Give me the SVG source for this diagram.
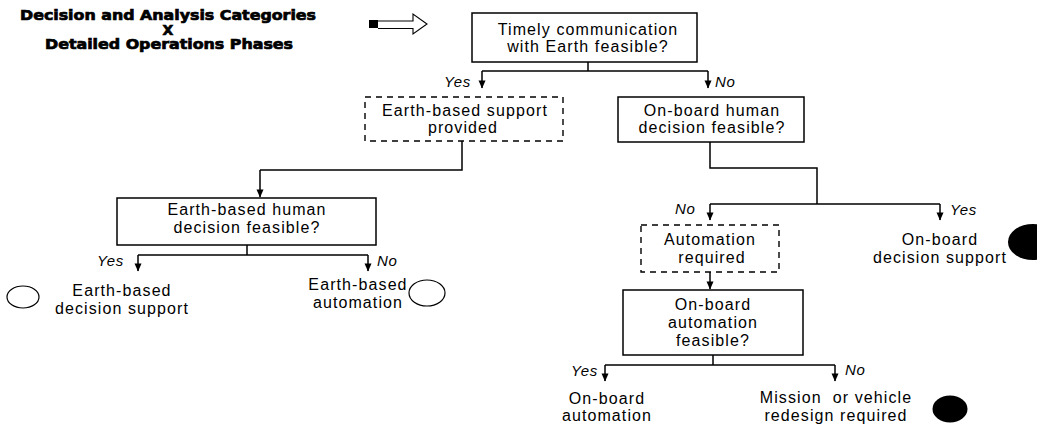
<svg xmlns="http://www.w3.org/2000/svg" width="1037" height="427" viewBox="0 0 1037 427">
<style>
.t{font-family:"Liberation Sans",Arial,sans-serif;font-size:16px;fill:#000;text-anchor:middle;letter-spacing:1.1px}
.yn{font-family:"Liberation Sans",Arial,sans-serif;font-size:15px;font-style:italic;fill:#000;letter-spacing:0.6px}
.ti{font-family:"DejaVu Sans",sans-serif;font-size:14px;font-weight:bold;fill:#000;stroke:#000;stroke-width:0.7;text-anchor:middle}
.box{fill:#fff;stroke:#000;stroke-width:1.5}
.dbox{fill:#fff;stroke:#000;stroke-width:1.4;stroke-dasharray:6 5}
.ln{fill:none;stroke:#000;stroke-width:1.5}
.oe{fill:none;stroke:#000;stroke-width:1.2}
</style>
<defs>
<marker id="ad" markerWidth="8" markerHeight="9" refX="4" refY="8.5" orient="0" markerUnits="userSpaceOnUse" viewBox="0 0 8 9">
<path d="M0.5,1 L7.5,1 L4,9 Z" fill="#000"/>
</marker>
</defs>
<rect width="1037" height="427" fill="#fff"/>

<g id="title">
<text class="ti" x="168" y="20" textLength="296" lengthAdjust="spacingAndGlyphs">Decision and Analysis Categories</text>
<text class="ti" x="168" y="35">X</text>
<text class="ti" x="169" y="49" textLength="248" lengthAdjust="spacingAndGlyphs">Detailed Operations Phases</text>
</g>

<g id="start-arrow">
<rect x="369" y="20" width="9" height="8" fill="#000"/>
<path d="M378,21 L413,21 L413,14 L427,24 L413,34 L413,28.5 L378,28.5" fill="#fff" stroke="#000" stroke-width="1.1"/>
</g>

<g id="connectors">
<path class="ln" d="M588,62 V71 M482,71 H708"/>
<path class="ln" d="M482,71 V88" marker-end="url(#ad)"/>
<path class="ln" d="M708,71 V88" marker-end="url(#ad)"/>
<path class="ln" d="M462,141 V170 H260"/>
<path class="ln" d="M260,170 V197" marker-end="url(#ad)"/>
<path class="ln" d="M247,245 V255 M138,255 H368"/>
<path class="ln" d="M138,255 V271" marker-end="url(#ad)"/>
<path class="ln" d="M368,255 V271" marker-end="url(#ad)"/>
<path class="ln" d="M710,142 V168 H817 V204 M710,204 H940"/>
<path class="ln" d="M710,204 V220" marker-end="url(#ad)"/>
<path class="ln" d="M940,204 V220" marker-end="url(#ad)"/>
<path class="ln" d="M710,272 V289" marker-end="url(#ad)"/>
<path class="ln" d="M713,355 V365 M605,365 H835"/>
<path class="ln" d="M605,365 V381" marker-end="url(#ad)"/>
<path class="ln" d="M835,365 V381" marker-end="url(#ad)"/>
</g>

<g id="labels">
<text class="yn" x="444" y="87">Yes</text>
<text class="yn" x="715" y="87">No</text>
<text class="yn" x="97" y="266">Yes</text>
<text class="yn" x="377" y="266">No</text>
<text class="yn" x="675" y="214">No</text>
<text class="yn" x="950" y="215">Yes</text>
<text class="yn" x="571" y="376">Yes</text>
<text class="yn" x="845" y="375">No</text>
</g>

<g id="n-timely">
<rect class="box" x="472" y="13" width="225" height="49"/>
<text class="t" x="588" y="35">Timely communication</text>
<text class="t" x="588" y="52">with Earth feasible?</text>
</g>

<g id="n-earth-support">
<rect class="dbox" x="365" y="97" width="198" height="44"/>
<text class="t" x="465" y="116">Earth-based support</text>
<text class="t" x="463" y="133">provided</text>
</g>

<g id="n-onboard-human">
<rect class="box" x="618" y="97" width="186" height="45"/>
<text class="t" x="712" y="116">On-board human</text>
<text class="t" x="712" y="133">decision feasible?</text>
</g>

<g id="n-earth-human">
<rect class="box" x="117" y="198" width="259" height="47"/>
<text class="t" x="247" y="215">Earth-based human</text>
<text class="t" x="247" y="233">decision feasible?</text>
</g>

<g id="n-earth-decision-support">
<ellipse class="oe" cx="23" cy="297" rx="16" ry="11"/>
<text class="t" x="122" y="296">Earth-based</text>
<text class="t" x="122" y="314">decision support</text>
</g>

<g id="n-earth-automation">
<text class="t" x="358" y="290">Earth-based</text>
<text class="t" x="358" y="308">automation</text>
<ellipse class="oe" cx="427" cy="293" rx="18" ry="13"/>
</g>

<g id="n-automation-required">
<rect class="dbox" x="641" y="225" width="138" height="47"/>
<text class="t" x="710" y="245">Automation</text>
<text class="t" x="712" y="263">required</text>
</g>

<g id="n-onboard-decision-support">
<text class="t" x="940" y="245">On-board</text>
<text class="t" x="940" y="263">decision support</text>
<ellipse cx="1033" cy="242" rx="25" ry="18" fill="#000"/>
</g>

<g id="n-onboard-automation-feasible">
<rect class="box" x="623" y="290" width="180" height="65"/>
<text class="t" x="713" y="310">On-board</text>
<text class="t" x="713" y="328">automation</text>
<text class="t" x="713" y="346">feasible?</text>
</g>

<g id="n-onboard-automation">
<text class="t" x="607" y="404">On-board</text>
<text class="t" x="607" y="421">automation</text>
</g>

<g id="n-redesign">
<text class="t" x="836" y="403" xml:space="preserve">Mission  or vehicle</text>
<text class="t" x="836" y="421">redesign required</text>
<ellipse cx="950" cy="409" rx="17.5" ry="13.5" fill="#000"/>
</g>
</svg>
